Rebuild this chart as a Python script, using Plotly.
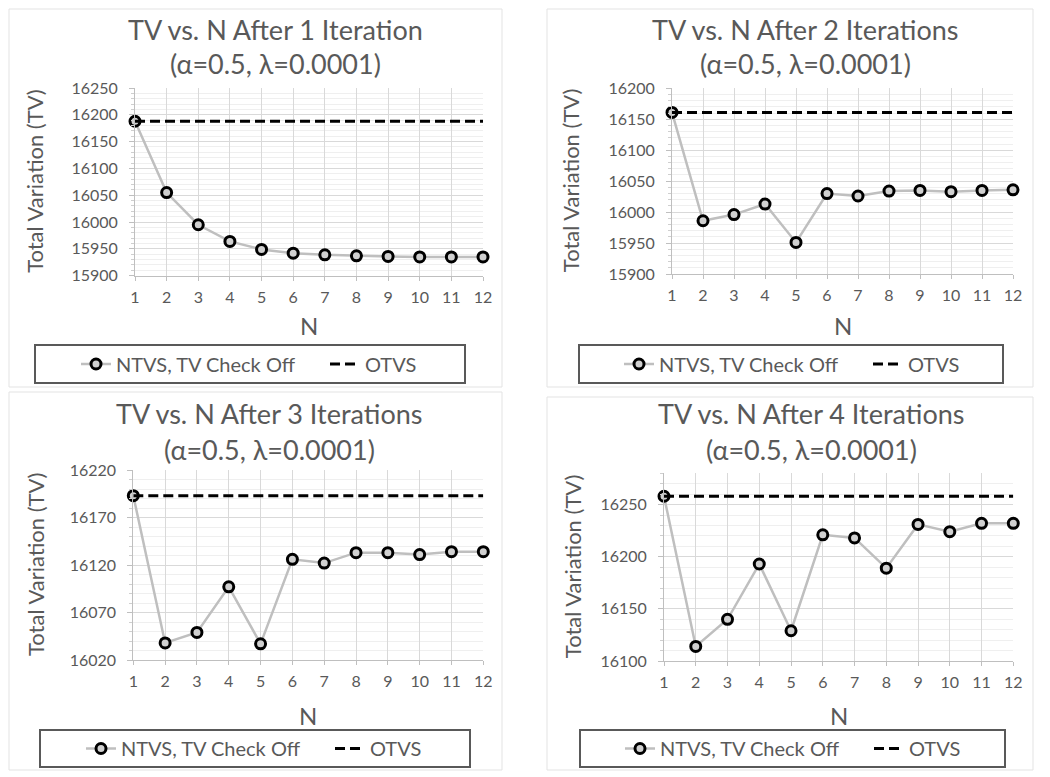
import plotly.graph_objects as go

# The page body has an 8px default margin, so the figure is sized to fill the
# rest of the 1050x777 window and coordinates below are in window pixels.
OFF = 8
W, H = 1050 - OFF, 777 - OFF

N = [1, 2, 3, 4, 5, 6, 7, 8, 9, 10, 11, 12]
n_ticks = ["1", "2", "3", "4", "5", "6", "7", "8", "9", "10", "11", "12"]

ntvs_1 = [16188, 16055, 15995, 15964, 15949, 15942, 15939, 15937, 15936, 15935, 15935, 15935]
otvs_1 = [16188, 16188, 16188, 16188, 16188, 16188, 16188, 16188, 16188, 16188, 16188, 16188]

ntvs_2 = [16161, 15986, 15996, 16013, 15951, 16030, 16026, 16034, 16035, 16033, 16035, 16036]
otvs_2 = [16161, 16161, 16161, 16161, 16161, 16161, 16161, 16161, 16161, 16161, 16161, 16161]

ntvs_3 = [16193, 16038, 16049, 16097, 16037, 16126, 16122, 16133, 16133, 16131, 16134, 16134]
otvs_3 = [16193, 16193, 16193, 16193, 16193, 16193, 16193, 16193, 16193, 16193, 16193, 16193]

ntvs_4 = [16258, 16114, 16140, 16193, 16129, 16221, 16218, 16189, 16231, 16224, 16232, 16232]
otvs_4 = [16258, 16258, 16258, 16258, 16258, 16258, 16258, 16258, 16258, 16258, 16258, 16258]

titles = ["TV vs. N After 1 Iteration", "TV vs. N After 2 Iterations",
          "TV vs. N After 3 Iterations", "TV vs. N After 4 Iterations"]
subtitle = "(α=0.5, λ=0.0001)"
y_title = "Total Variation (TV)"
x_title = "N"
name_ntvs = "NTVS, TV Check Off"
name_otvs = "OTVS"

y_ranges = [[15900, 16250], [15900, 16200], [16020, 16220], [16100, 16280]]
y_tick0 = [15900, 15900, 16020, 16100]

FONT = "Lato, 'Open Sans', sans-serif"
TXT = "#595959"
GRID = "#d9d9d9"

def px(x):
    return (x - OFF) / W

def py(y):
    return 1 - (y - OFF) / H

# panel layout in window pixels
panels = [
    dict(plot=(135, 483, 88, 275.7), box=(9, 502, 9, 387), tcx=275, t1=30, t2=64,
         ytx=35, xty=325, leg=(35, 465, 345, 383), legtext=121),
    dict(plot=(672, 1013, 88.3, 274), box=(547, 1033, 9, 387), tcx=805, t1=30, t2=64,
         ytx=570, xty=325, leg=(579, 1003, 345, 383), legtext=664),
    dict(plot=(133.3, 483.3, 470, 660), box=(9, 502, 392, 770), tcx=269, t1=413, t2=449,
         ytx=35, xty=715, leg=(40, 470, 730, 767), legtext=126),
    dict(plot=(664, 1013.3, 473.3, 661), box=(547, 1033, 397, 770), tcx=811, t1=413, t2=449,
         ytx=572, xty=715, leg=(580, 1005, 730, 767), legtext=665),
]

series = [(ntvs_1, otvs_1), (ntvs_2, otvs_2), (ntvs_3, otvs_3), (ntvs_4, otvs_4)]

fig = go.Figure()
shapes = []
annotations = []
layout = dict(
    width=W, height=H,
    margin=dict(l=0, r=0, t=0, b=0, autoexpand=False),
    paper_bgcolor="white", plot_bgcolor="white",
    font=dict(family=FONT, color=TXT),
    showlegend=True,
)

for i, (p, (nt, ot)) in enumerate(zip(panels, series)):
    k = "" if i == 0 else str(i + 1)
    xa, ya = "x" + k, "y" + k
    lg = "legend" if i == 0 else "legend" + str(i + 1)
    x0, x1, y0, y1 = p["plot"]
    fig.add_trace(go.Scatter(
        x=N, y=nt, mode="lines+markers", name=name_ntvs,
        line=dict(color="#bfbfbf", width=2.5),
        marker=dict(symbol="circle", size=10, color="#d0d0d0",
                    line=dict(color="black", width=3)),
        xaxis=xa, yaxis=ya, legend=lg, cliponaxis=False))
    fig.add_trace(go.Scatter(
        x=N, y=ot, mode="lines", name=name_otvs,
        line=dict(color="black", width=3, dash="10px,5px"),
        xaxis=xa, yaxis=ya, legend=lg, cliponaxis=False))

    layout["xaxis" + k] = dict(
        domain=[px(x0), px(x1)], anchor=ya, range=[1, 12],
        tickvals=N, ticktext=n_ticks,
        showgrid=True, gridcolor=GRID, gridwidth=1,
        showline=True, linecolor="#bfbfbf", linewidth=1,
        ticks="outside", ticklen=4, tickcolor="#bfbfbf",
        tickfont=dict(family=FONT, size=16, color=TXT),
        ticklabelstandoff=3,
        zeroline=False, fixedrange=True, automargin=False,
    )
    layout["yaxis" + k] = dict(
        domain=[py(y1), py(y0)], anchor=xa, range=y_ranges[i],
        tick0=y_tick0[i], dtick=50, tickformat="d",
        showgrid=True, gridcolor=GRID, gridwidth=1,
        showline=True, linecolor="#bfbfbf", linewidth=1,
        ticks="outside", ticklen=5, tickcolor="#bfbfbf",
        minor=dict(dtick=10, showgrid=True, gridcolor="#efefef", gridwidth=1,
                   ticks="outside", ticklen=3, tickcolor="#cfcfcf"),
        tickfont=dict(family=FONT, size=16, color=TXT),
        ticklabelstandoff=8,
        zeroline=False, fixedrange=True, automargin=False,
    )

    # panel border
    bx0, bx1, by0, by1 = p["box"]
    shapes.append(dict(type="rect", xref="paper", yref="paper",
                       x0=px(bx0), x1=px(bx1), y0=py(by1), y1=py(by0),
                       line=dict(color="#e3e3e3", width=1), layer="below"))
    # legend border
    lx0, lx1, ly0, ly1 = p["leg"]
    shapes.append(dict(type="rect", xref="paper", yref="paper",
                       x0=px(lx0), x1=px(lx1), y0=py(ly1), y1=py(ly0),
                       line=dict(color="#595959", width=2)))
    layout[lg] = dict(
        orientation="h", x=px(p["legtext"] - 45), y=py((ly0 + ly1) / 2),
        xanchor="left", yanchor="middle", xref="paper", yref="paper",
        bgcolor="rgba(0,0,0,0)", borderwidth=0,
        font=dict(family=FONT, size=20, color=TXT),
        entrywidth=204, entrywidthmode="pixels",
        itemclick=False, itemdoubleclick=False,
    )

    # titles
    annotations.append(dict(text=titles[i], x=px(p["tcx"]), y=py(p["t1"]),
                            xref="paper", yref="paper", showarrow=False,
                            xanchor="center", yanchor="middle",
                            font=dict(family=FONT, size=27, color=TXT)))
    annotations.append(dict(text=subtitle, x=px(p["tcx"]), y=py(p["t2"]),
                            xref="paper", yref="paper", showarrow=False,
                            xanchor="center", yanchor="middle",
                            font=dict(family=FONT, size=27, color=TXT)))
    annotations.append(dict(text=y_title, x=px(p["ytx"]), y=py((y0 + y1) / 2),
                            xref="paper", yref="paper", showarrow=False, textangle=-90,
                            xanchor="center", yanchor="middle",
                            font=dict(family=FONT, size=22, color=TXT)))
    annotations.append(dict(text=x_title, x=px((x0 + x1) / 2), y=py(p["xty"]),
                            xref="paper", yref="paper", showarrow=False,
                            xanchor="center", yanchor="middle",
                            font=dict(family=FONT, size=24, color=TXT)))

layout["shapes"] = shapes
layout["annotations"] = annotations
fig.update_layout(**layout)

fig.write_html("out.html")
